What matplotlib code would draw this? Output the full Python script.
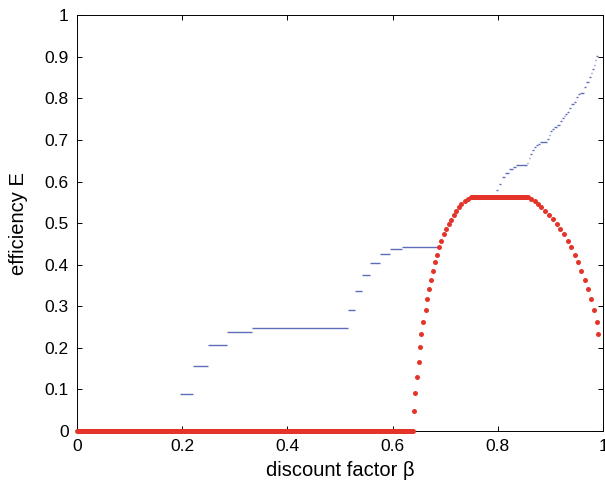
import numpy as np
import matplotlib
matplotlib.use('Agg')
import matplotlib.pyplot as plt

plt.rcParams.update({'font.family': ['Liberation Sans', 'DejaVu Sans'], 'font.size': 12})

# ── blue steps: (start beta, end beta, efficiency) ──
blue_start = [0.197, 0.220, 0.250, 0.285, 0.333, 0.516, 0.528, 0.542, 0.558, 0.576,
              0.596, 0.618,
              0.796, 0.802, 0.808, 0.813, 0.822, 0.828, 0.834, 0.855, 0.859, 0.862,
              0.865, 0.868, 0.872, 0.876, 0.881, 0.894, 0.897, 0.900, 0.903, 0.907,
              0.912, 0.918, 0.922, 0.925, 0.928, 0.932, 0.936, 0.940, 0.945, 0.948,
              0.952, 0.956, 0.963, 0.968, 0.973, 0.977, 0.979, 0.982, 0.985, 0.987]
blue_end = [0.221, 0.250, 0.285, 0.333, 0.516, 0.528, 0.542, 0.558, 0.576, 0.596,
            0.618, 0.690,
            0.801, 0.807, 0.813, 0.822, 0.828, 0.834, 0.855, 0.858, 0.862, 0.865,
            0.868, 0.872, 0.876, 0.881, 0.894, 0.897, 0.900, 0.903, 0.907, 0.912,
            0.918, 0.922, 0.925, 0.928, 0.932, 0.936, 0.940, 0.945, 0.948, 0.952,
            0.956, 0.963, 0.968, 0.973, 0.977, 0.979, 0.982, 0.985, 0.987, 0.990]
blue_E = [0.088, 0.157, 0.208, 0.238, 0.248, 0.290, 0.337, 0.376, 0.405, 0.426,
          0.438, 0.443,
          0.579, 0.595, 0.610, 0.620, 0.629, 0.634, 0.639, 0.645, 0.656, 0.667,
          0.675, 0.682, 0.687, 0.691, 0.694, 0.702, 0.713, 0.722, 0.727, 0.731,
          0.735, 0.745, 0.753, 0.758, 0.763, 0.767, 0.777, 0.786, 0.792, 0.803,
          0.810, 0.813, 0.827, 0.839, 0.851, 0.860, 0.870, 0.881, 0.893, 0.903]

# ── red curve ──
zero_range = (0.0, 0.638)
plateau_range = (0.750, 0.858)
plateau_E = 0.562

rise_beta = [0.640, 0.6425, 0.646, 0.650, 0.652, 0.655, 0.658, 0.663, 0.666, 0.670,
             0.674, 0.677, 0.681, 0.684, 0.688, 0.693, 0.698, 0.702, 0.707, 0.711,
             0.716, 0.721, 0.726, 0.731, 0.737, 0.743]
rise_E = [0.048, 0.091, 0.131, 0.167, 0.202, 0.233, 0.263, 0.291, 0.3165, 0.341,
          0.364, 0.385, 0.4055, 0.424, 0.4415, 0.457, 0.473, 0.4856, 0.498, 0.507,
          0.520, 0.530, 0.539, 0.546, 0.553, 0.558]

fall_beta = [0.864, 0.870, 0.877, 0.883, 0.889, 0.897, 0.905, 0.912, 0.919, 0.926,
             0.933, 0.939, 0.946, 0.953, 0.959, 0.966, 0.971, 0.978, 0.9835, 0.988,
             0.991]
fall_E = [0.558, 0.553, 0.546, 0.539, 0.530, 0.520, 0.5096, 0.4976, 0.4856, 0.473,
          0.457, 0.4415, 0.424, 0.4055, 0.385, 0.364, 0.341, 0.3165, 0.291, 0.263,
          0.233]

red = '#e4342a'
blue = '#5f6db8'

fig = plt.figure(figsize=(6.05, 4.90), dpi=100)
ax = fig.add_axes([0.127, 0.1204, 0.8697, 0.8486])

ax.hlines(blue_E, blue_start, blue_end, colors=blue, linewidth=1.0, zorder=2)

ax.plot(zero_range, [0, 0], color=red, linewidth=3.6, solid_capstyle='round',
        clip_on=False, zorder=3)
ax.plot(plateau_range, [plateau_E, plateau_E], color=red, linewidth=3.6,
        solid_capstyle='round', clip_on=False, zorder=3)
ax.plot(rise_beta, rise_E, 'o', color=red, markersize=3.6, markeredgewidth=0,
        clip_on=False, zorder=3)
ax.plot(fall_beta, fall_E, 'o', color=red, markersize=3.6, markeredgewidth=0,
        clip_on=False, zorder=3)

ax.set_xlim(0, 1)
ax.set_ylim(0, 1)
ax.set_xticks(np.arange(0, 1.01, 0.2))
ax.set_xticklabels(['0', '0.2', '0.4', '0.6', '0.8', '1'])
ax.set_yticks(np.arange(0, 1.01, 0.1))
ax.set_yticklabels(['0', '0.1', '0.2', '0.3', '0.4', '0.5', '0.6', '0.7', '0.8', '0.9', '1'])
ax.tick_params(direction='in', top=True, right=True, length=3.5, width=0.7,
               labelsize=12.5, pad=6)
for s in ax.spines.values():
    s.set_linewidth(0.7)

ax.set_xlabel('discount factor β', fontsize=14.5, labelpad=5)
ax.set_ylabel('efficiency E', fontsize=14.5, labelpad=12)

fig.savefig('out.png', dpi=100)
